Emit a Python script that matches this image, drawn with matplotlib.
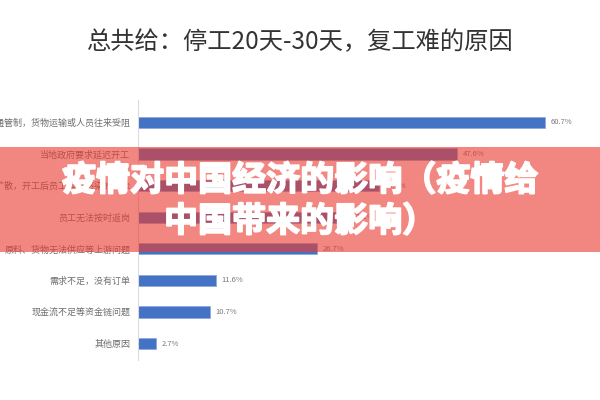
import matplotlib
matplotlib.use("Agg")
import matplotlib.pyplot as plt
import matplotlib.patheffects as pe
from matplotlib.patches import Rectangle

plt.rcParams['font.family'] = ['Noto Sans CJK SC', 'DejaVu Sans']

# survey: why restarting work is hard (stopped 20-30 days)
reasons = [
    "交通管制，货物运输或人员往来受阻",
    "当地政府要求延迟开工",
    "疫情扩散，开工后员工有被感染的风险",
    "员工无法按时返岗",
    "原料、货物无法供应等上游问题",
    "需求不足，没有订单",
    "现金流不足等资金链问题",
    "其他原因",
]
shares = [60.7, 47.6, 35.9, 31.1, 26.7, 11.6, 10.7, 2.7]
value_labels = ["60.7%", "47.6%", "35.9%", "31.1%", "26.7%", "11.6%", "10.7%", "2.7%"]

title = "总共给：停工20天-30天，复工难的原因"
banner = ["疫情对中国经济的影响（疫情给", "中国带来的影响）"]

fig = plt.figure(figsize=(6, 4), dpi=100)
fig.patch.set_facecolor("white")

# axes from x=138px to the right edge, y=100..360px
ax = fig.add_axes([138 / 600, 0.1, 1 - 138 / 600, 0.65])
ypos = list(range(len(reasons)))
ax.barh(ypos, shares, height=0.35, color="#4472C4", edgecolor="#8FAADC", linewidth=0.6)
for y, v, lab in zip(ypos, shares, value_labels):
    ax.text(v + 0.9, y, lab, va="center", ha="left", fontsize=5.5, color="#7a7a7a")

ax.set_xlim(0, 462 / 6.70)
ax.set_ylim(7.52, -0.71)
ax.set_yticks(ypos)
ax.set_yticklabels(reasons, fontsize=6.5, color="#6e6e6e")
ax.tick_params(axis="y", length=0, pad=5.5)
ax.set_xticks([])
for s in ["top", "right", "bottom"]:
    ax.spines[s].set_visible(False)
ax.spines["left"].set_color("#dcdcdc")
ax.spines["left"].set_linewidth(0.8)

fig.text(0.5, 1 - 42 / 400, title, ha="center", va="center", fontsize=17.5, color="#333333")

# translucent banner on top of the chart
fig.patches.append(Rectangle((0, 1 - 252 / 400), 1, 105 / 400, transform=fig.transFigure,
                             facecolor=(235 / 255, 60 / 255, 50 / 255), alpha=0.62,
                             edgecolor="none", zorder=5))
thick = [pe.withStroke(linewidth=1.3, foreground="white")]
fig.text(0.5, 1 - 180 / 400, banner[0], ha="center", va="center", fontsize=24.5,
         fontweight="bold", color="white", zorder=6, path_effects=thick)
fig.text(0.5, 1 - 221 / 400, banner[1], ha="center", va="center", fontsize=24.5,
         fontweight="bold", color="white", zorder=6, path_effects=thick)

fig.savefig("out.png", dpi=100)
